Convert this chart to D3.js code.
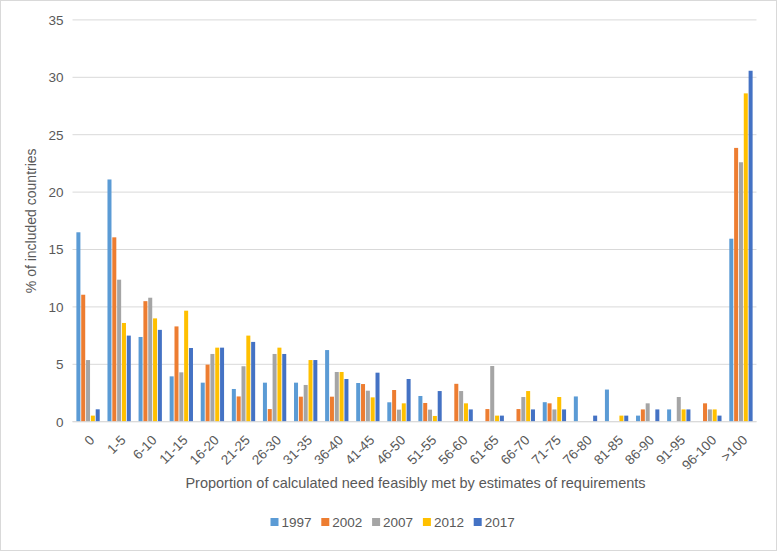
<!DOCTYPE html>
<html><head><meta charset="utf-8">
<script src="https://cdn.jsdelivr.net/npm/d3@7"></script>
<style>
body{margin:0;background:#fff;}
text{font-family:"Liberation Sans",Arial,sans-serif;fill:#595959;}
</style></head>
<body><svg id="c" width="777" height="551"></svg>
<script>
const categories = ["0","1-5","6-10","11-15","16-20","21-25","26-30","31-35","36-40","41-45","46-50","51-55","56-60","61-65","66-70","71-75","76-80","81-85","86-90","91-95","96-100",">100"];
const seriesNames = ["1997","2002","2007","2012","2017"];
const s1997 = [16.5,21.1,7.38,3.95,3.4,2.85,3.4,3.4,6.24,3.37,1.69,2.24,0,0,0,1.7,2.2,2.8,0.53,1.07,0,15.94];
const s2002 = [11.06,16.06,10.5,8.3,4.97,2.2,1.1,2.18,2.18,3.28,2.76,1.63,3.3,1.1,1.1,1.6,0,0,1.07,0,1.6,23.85];
const s2007 = [5.37,12.37,10.8,4.3,5.9,4.83,5.9,3.2,4.33,2.7,1.05,1.05,2.67,4.85,2.15,1.07,0,0,1.6,2.15,1.07,22.6];
const s2012 = [0.53,8.6,9.0,9.67,6.45,7.5,6.45,5.37,4.33,2.12,1.6,0.5,1.6,0.53,2.67,2.15,0,0.53,0,1.07,1.07,28.6];
const s2017 = [1.08,7.5,8.0,6.42,6.45,6.95,5.9,5.37,3.72,4.27,3.72,2.67,1.07,0.53,1.07,1.07,0.53,0.53,1.07,1.07,0.53,30.57];
const yTicks = [0,5,10,15,20,25,30,35];
const colors = ["#5B9BD5","#ED7D31","#A5A5A5","#FFC000","#4472C4"];
const allSeries = [s1997,s2002,s2007,s2012,s2017];

const svg = d3.select("#c");
svg.append("rect").attr("x",0.5).attr("y",0.5).attr("width",776).attr("height",550)
  .attr("fill","#fff").attr("stroke","#d9d9d9");

const L=72.5, R=756.5, T=19.9, B=421.7;
const x0 = d3.scaleBand().domain(categories).range([L,R]).paddingInner(0.25).paddingOuter(0.125);
const x1 = d3.scaleBand().domain(seriesNames).range([0,x0.bandwidth()]).paddingInner(0.17);
const y = d3.scaleLinear().domain([0,35]).range([B,T]);

// gridlines
svg.append("g").selectAll("line").data(yTicks).join("line")
  .attr("x1",L).attr("x2",R).attr("y1",d=>y(d)).attr("y2",d=>y(d))
  .attr("stroke","#d9d9d9").attr("stroke-width",1);

// y labels
const yAxis = d3.axisLeft(y).tickValues(yTicks).tickSize(0).tickPadding(0);
const gy = svg.append("g").attr("transform",`translate(${L-9},0)`).call(yAxis);
gy.select(".domain").remove();
gy.selectAll("text").style("font-size","13.5px").attr("fill","#595959").style("font-family","Liberation Sans, Arial, sans-serif");

// bars
const data = categories.map((c,i)=>({cat:c, vals: seriesNames.map((s,j)=>({s, v: allSeries[j][i], c: colors[j]}))}));
svg.append("g").selectAll("g").data(data).join("g")
  .attr("transform",d=>`translate(${x0(d.cat)},0)`)
  .selectAll("rect").data(d=>d.vals.filter(v=>v.v>0)).join("rect")
  .attr("x",d=>x1(d.s)).attr("width",x1.bandwidth())
  .attr("y",d=>y(d.v)).attr("height",d=>y(0)-y(d.v))
  .attr("fill",d=>d.c);

// x axis line
svg.append("line").attr("x1",L).attr("x2",R).attr("y1",B).attr("y2",B).attr("stroke","#d9d9d9");

// x labels
const xAxis = d3.axisBottom(x0).tickSize(0).tickPadding(0);
const gx = svg.append("g").attr("transform",`translate(0,${B})`).call(xAxis);
gx.select(".domain").remove();
gx.selectAll("text")
  .style("font-size","13.5px").attr("fill","#595959").style("font-family","Liberation Sans, Arial, sans-serif")
  .attr("text-anchor","end").attr("dy","0.35em")
  .attr("transform","translate(4,16) rotate(-45)").attr("y",0).attr("x",0);

// axis titles
svg.append("text").attr("transform",`translate(36,${(T+B)/2}) rotate(-90)`)
  .attr("text-anchor","middle").style("font-size","14px").text("% of included countries");
svg.append("text").attr("x",(L+R)/2+1).attr("y",488).attr("text-anchor","middle")
  .style("font-size","14.5px").text("Proportion of calculated need feasibly met by estimates of requirements");

// legend
const lg = svg.append("g").selectAll("g").data(seriesNames).join("g")
  .attr("transform",(d,i)=>`translate(${270.5+i*50.8},522)`);
lg.append("rect").attr("x",0).attr("y",-4).attr("width",8).attr("height",8).attr("fill",(d,i)=>colors[i]);
lg.append("text").attr("x",11).attr("y",0).attr("dy","0.35em").style("font-size","13.5px").text(d=>d);
</script></body></html>
